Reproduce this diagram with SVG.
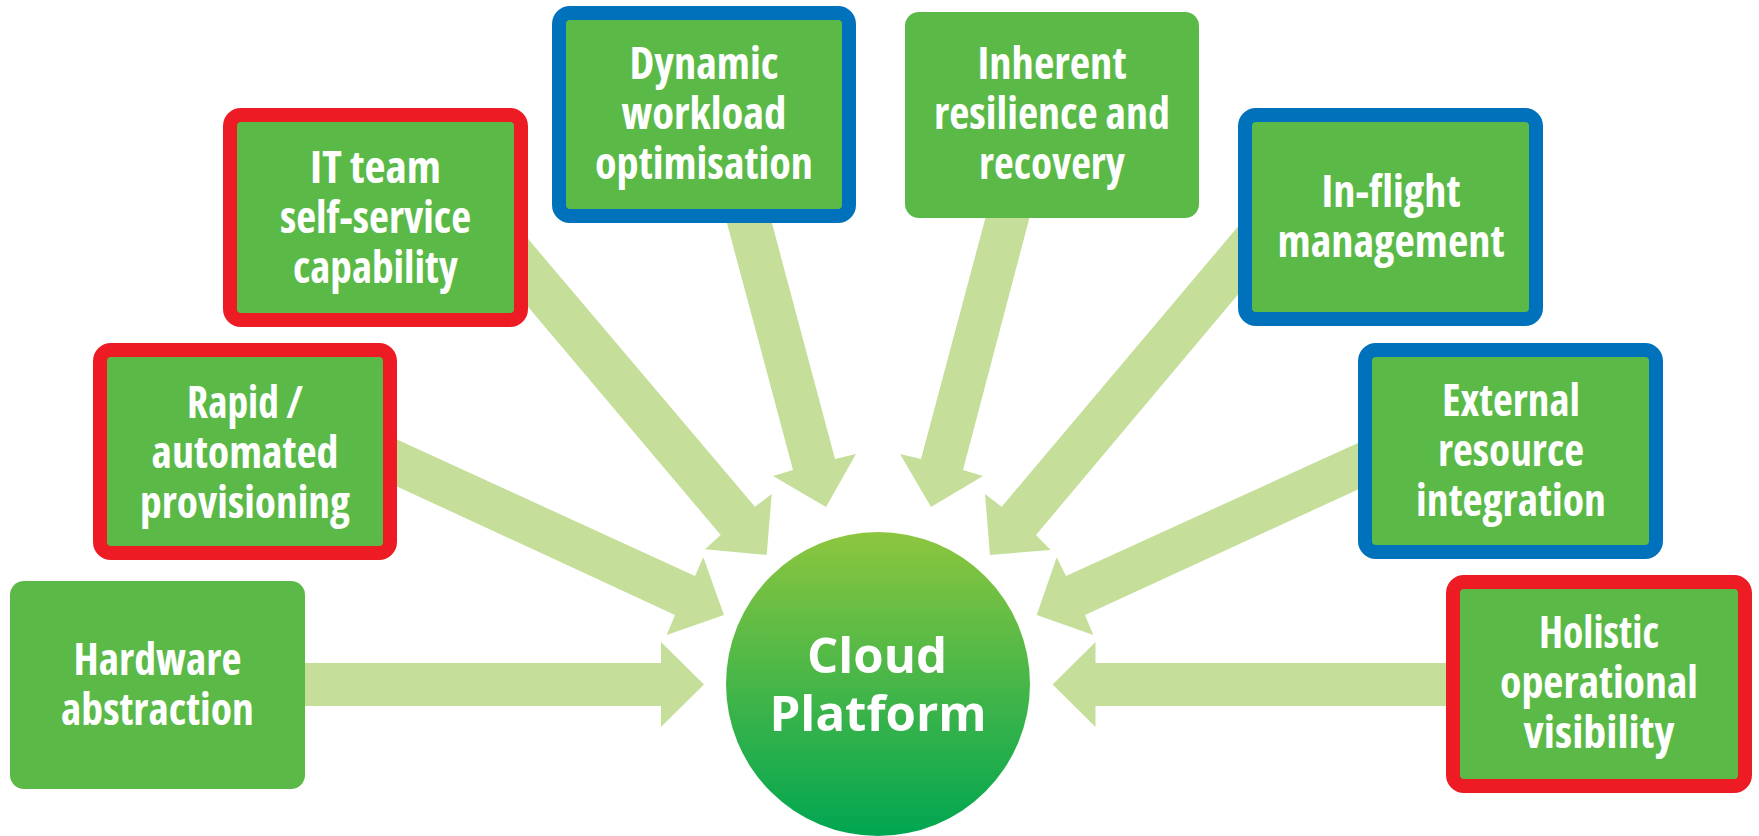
<svg xmlns="http://www.w3.org/2000/svg" width="1759" height="836" viewBox="0 0 1759 836">
<defs>
<linearGradient id="cg" x1="0" y1="0" x2="0" y2="1">
<stop offset="0" stop-color="#8DC63F"/>
<stop offset="1" stop-color="#00A651"/>
</linearGradient>
<style>
.arrow{fill:#C5DF9B}
.box{fill:#5BBA47}
.red{fill:#5BBA47;stroke:#ED1C24;stroke-width:14}
.blue{fill:#5BBA47;stroke:#0072BC;stroke-width:14}
.t{font-family:"Open Sans","Liberation Sans",sans-serif;font-weight:bold;font-size:44px;fill:#FFFFFF;text-anchor:middle;font-stretch:condensed}
.c{font-family:"Open Sans","Liberation Sans",sans-serif;font-weight:bold;font-size:48px;fill:#FFFFFF;text-anchor:middle}
</style>
</defs>
<rect width="1759" height="836" fill="#FFFFFF"/>
<g id="connectors">
<polygon class="arrow" points="290,663 661,663 661,642 704,684.5 661,727 661,706 290,706"/>
<polygon class="arrow" points="1465,663 1095.5,663 1095.5,642 1052.6,684.5 1095.5,727 1095.5,706 1465,706"/>
<polygon class="arrow" points="385,434 695,576 703.3,557.3 724,615 666.7,635 675,615 385,481"/>
<polygon class="arrow" points="1370,437.5 1066,576 1056.7,557.3 1036.7,615 1093.3,635 1085,615 1370,484"/>
<polygon class="arrow" points="518,227 755,506.7 771.7,494 766.7,555 705,549.3 720.7,535 518,295"/>
<polygon class="arrow" points="1246,217 1001.7,506.7 985,494 990,555 1050.7,550 1036,535 1246,285"/>
<polygon class="arrow" points="724,212 769,212 835,459 856,454 826,507 773,476 793,470"/>
<polygon class="arrow" points="987,212 1031,212 963,470 983,476 931,507 900,454 921,459"/>
</g>
<g id="hardware-abstraction">
<rect class="box" x="10" y="581" width="295" height="208" rx="14"/>
<text class="t" x="157.5" y="675" textLength="168" lengthAdjust="spacingAndGlyphs">Hardware</text>
<text class="t" x="157.5" y="725" textLength="193" lengthAdjust="spacingAndGlyphs">abstraction</text>
</g>
<g id="rapid-provisioning">
<rect class="red" x="100" y="350" width="290" height="203" rx="11"/>
<text class="t" x="245" y="418" textLength="116" lengthAdjust="spacingAndGlyphs">Rapid /</text>
<text class="t" x="245" y="468" textLength="187" lengthAdjust="spacingAndGlyphs">automated</text>
<text class="t" x="245" y="518" textLength="210" lengthAdjust="spacingAndGlyphs">provisioning</text>
</g>
<g id="it-self-service">
<rect class="red" x="230" y="115" width="291" height="205" rx="11"/>
<text class="t" x="375.5" y="183" textLength="131" lengthAdjust="spacingAndGlyphs">IT team</text>
<text class="t" x="375.5" y="233" textLength="191" lengthAdjust="spacingAndGlyphs">self-service</text>
<text class="t" x="375.5" y="283" textLength="165" lengthAdjust="spacingAndGlyphs">capability</text>
</g>
<g id="dynamic-workload">
<rect class="blue" x="559" y="13" width="290" height="203" rx="11"/>
<text class="t" x="704" y="79" textLength="149" lengthAdjust="spacingAndGlyphs">Dynamic</text>
<text class="t" x="704" y="129" textLength="165" lengthAdjust="spacingAndGlyphs">workload</text>
<text class="t" x="704" y="179" textLength="218" lengthAdjust="spacingAndGlyphs">optimisation</text>
</g>
<g id="inherent-resilience">
<rect class="box" x="905" y="12" width="294" height="206" rx="14"/>
<text class="t" x="1052" y="79" textLength="149" lengthAdjust="spacingAndGlyphs">Inherent</text>
<text class="t" x="1052" y="129" textLength="236" lengthAdjust="spacingAndGlyphs">resilience and</text>
<text class="t" x="1052" y="179" textLength="146" lengthAdjust="spacingAndGlyphs">recovery</text>
</g>
<g id="in-flight-management">
<rect class="blue" x="1245" y="115" width="291" height="204" rx="11"/>
<text class="t" x="1391" y="207" textLength="139" lengthAdjust="spacingAndGlyphs">In-flight</text>
<text class="t" x="1391" y="257" textLength="227" lengthAdjust="spacingAndGlyphs">management</text>
</g>
<g id="external-resource">
<rect class="blue" x="1365" y="350" width="291" height="202" rx="11"/>
<text class="t" x="1511" y="416" textLength="138" lengthAdjust="spacingAndGlyphs">External</text>
<text class="t" x="1511" y="466" textLength="146" lengthAdjust="spacingAndGlyphs">resource</text>
<text class="t" x="1511" y="516" textLength="190" lengthAdjust="spacingAndGlyphs">integration</text>
</g>
<g id="holistic-visibility">
<rect class="red" x="1453" y="582" width="292" height="204" rx="11"/>
<text class="t" x="1599" y="648" textLength="120" lengthAdjust="spacingAndGlyphs">Holistic</text>
<text class="t" x="1599" y="698" textLength="198" lengthAdjust="spacingAndGlyphs">operational</text>
<text class="t" x="1599" y="748" textLength="151" lengthAdjust="spacingAndGlyphs">visibility</text>
</g>
<g id="cloud-platform">
<circle cx="878" cy="684" r="152" fill="url(#cg)"/>
<text class="c" x="877" y="673" textLength="140" lengthAdjust="spacingAndGlyphs">Cloud</text>
<text class="c" x="878" y="731" textLength="217" lengthAdjust="spacingAndGlyphs">Platform</text>
</g>
</svg>
